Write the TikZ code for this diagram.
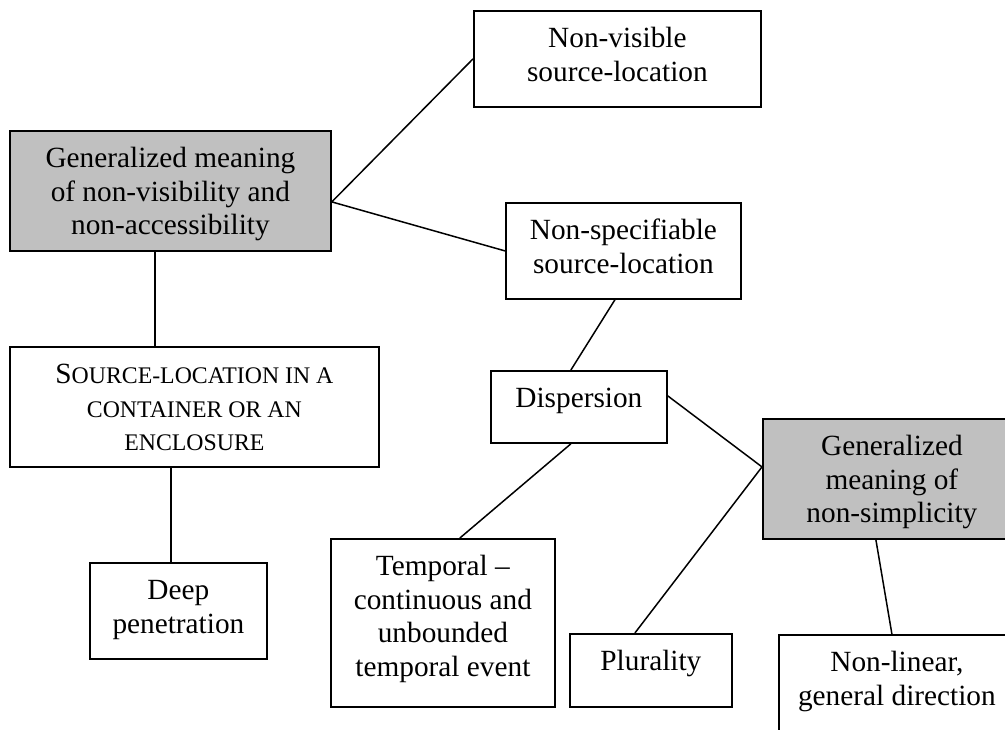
\documentclass[tikz,border=0pt]{standalone}
\usepackage{fontspec}
\setmainfont{Liberation Serif}
\definecolor{boxgray}{HTML}{C0C0C0}
\newcommand\smcap[1]{{\fontsize{23.8}{33.5}\selectfont #1}}
\begin{document}
\begin{tikzpicture}[x=1pt,y=-1pt,
  box/.style={draw, line width=1.8pt, inner sep=0pt, anchor=north west},
  gbox/.style={box, fill=boxgray},
  txt/.style={inner sep=0pt, align=center, anchor=north, font=\fontsize{29.3}{33.5}\selectfont},
  conn/.style={line width=1.5pt}]
\path[use as bounding box, clip] (0,0) rectangle (1005,729);
\fill[white] (0,0) rectangle (1005,729);

% boxes
\node[box,  minimum width=287pt, minimum height=96pt]  (nv)   at (473,10)  {};
\node[gbox, minimum width=321pt, minimum height=120pt] (g1)   at (9,130)   {};
\node[box,  minimum width=235pt, minimum height=96pt]  (ns)   at (505,202) {};
\node[box,  minimum width=369pt, minimum height=120pt] (c)    at (9,346)   {};
\node[box,  minimum width=176pt, minimum height=72pt]  (d)    at (490,370) {};
\node[gbox, minimum width=258pt, minimum height=120pt] (g2)   at (762,418) {};
\node[box,  minimum width=177pt, minimum height=96pt]  (deep) at (89,562)  {};
\node[box,  minimum width=224pt, minimum height=168pt] (temp) at (330,538) {};
\node[box,  minimum width=162pt, minimum height=73pt]  (plur) at (569,633) {};
\node[box,  minimum width=236pt, minimum height=96pt]  (nl)   at (778,634) {};

% texts
\node[txt] (nvt)   at ([yshift=-14pt]nv.north)   {\strut Non-visible\\source-location};
\node[txt] (g1t)   at ([yshift=-14pt]g1.north)   {\strut Generalized meaning\\of non-visibility and\\non-accessibility};
\node[txt] (nst)   at ([yshift=-14pt]ns.north)   {\strut Non-specifiable\\source-location};
\node[txt] (ct)    at ([yshift=-14pt]c.north)    {\strut S\smcap{OURCE-LOCATION IN A}\\\smcap{CONTAINER OR AN}\\\smcap{ENCLOSURE}};
\node[txt] (dt)    at ([yshift=-14pt]d.north)    {\strut Dispersion};
\node[txt] (g2t)   at ([yshift=-14pt]g2.north)   {\strut Generalized\\meaning of\\non-simplicity};
\node[txt] (deept) at ([yshift=-14pt]deep.north) {\strut Deep\\penetration};
\node[txt] (tempt) at ([yshift=-14pt]temp.north) {\strut Temporal –\\continuous and\\unbounded\\temporal event};
\node[txt] (plurt) at ([yshift=-14pt]plur.north) {\strut Plurality};
\node[txt] (nlt)   at ([yshift=-14pt]nl.north)   {\strut Non-linear,\\general direction};

% connectors
\draw[conn] ([yshift=-11pt]g1.east) -- (nv.west);
\draw[conn] ([yshift=-11pt]g1.east) -- (ns.west);
\draw[conn] ([xshift=-15.5pt]g1.south) -- ([xshift=-39.5pt]c.north);
\draw[conn] ([xshift=-23.5pt]c.south) -- ([xshift=-7.5pt]deep.north);
\draw[conn] ([xshift=-8.5pt]ns.south) -- ([xshift=-8pt]d.north);
\draw[conn] ([xshift=-8pt]d.south) -- ([xshift=17pt]temp.north);
\draw[conn] ([yshift=11pt]d.east) -- ([yshift=12pt]g2.west);
\draw[conn] ([yshift=12pt]g2.west) -- ([xshift=-16pt]plur.north);
\draw[conn] ([xshift=-16pt]g2.south) -- ([xshift=-5pt]nl.north);
\end{tikzpicture}
\end{document}
